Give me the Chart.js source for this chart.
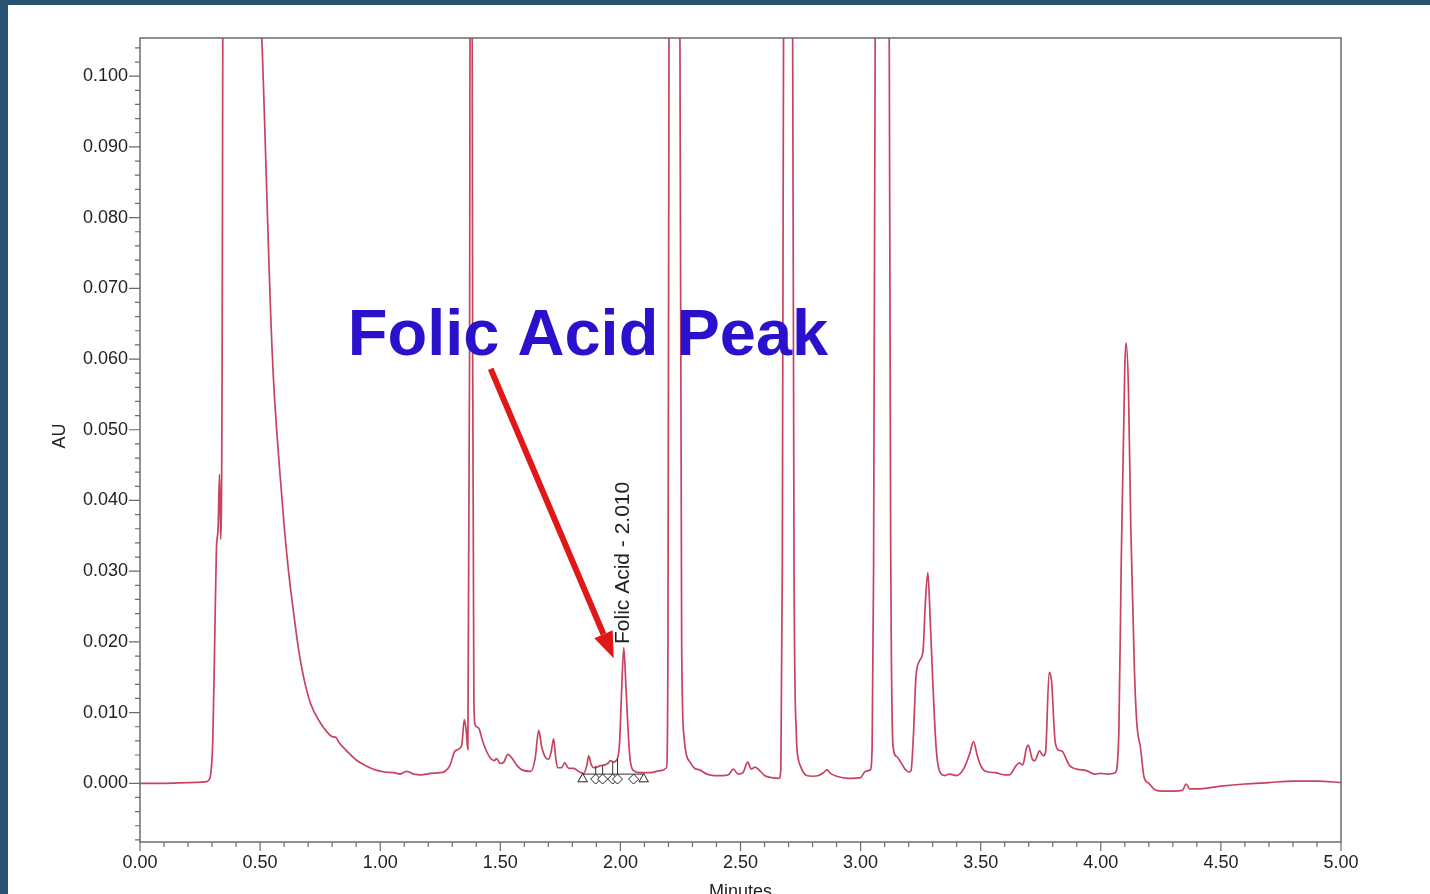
<!DOCTYPE html>
<html>
<head>
<meta charset="utf-8">
<title>Folic Acid chromatogram</title>
<script src="https://cdn.jsdelivr.net/npm/chart.js@4.4.1/dist/chart.umd.min.js"></script>
<style>
  html, body { margin: 0; padding: 0; }
  body { width: 1430px; height: 894px; overflow: hidden; background: #285270; position: relative; }
  .panel { position: absolute; left: 8px; top: 5px; right: 0; bottom: 0; background: #fff; }
  .chart-box { position: absolute; left: 0; top: 0; width: 1430px; height: 894px; }
</style>
</head>
<body>
<div class="panel"></div>
<div class="chart-box"><canvas id="myChart"></canvas></div>
<script>
// retention time (minutes) and detector response (AU)
const times = [
  0.00, 0.10, 0.20, 0.27, 0.285, 0.295, 0.303, 0.310, 0.318, 0.325, 0.331, 0.336, 0.342, 0.350, 0.420,
  0.480, 0.490, 0.545, 0.550, 0.555, 0.560, 0.570, 0.580, 0.600, 0.620, 0.640, 0.660, 0.680, 0.710, 0.750, 0.780, 0.800, 0.815,
  0.830, 0.860, 0.900, 0.940, 0.980, 1.020, 1.060, 1.080, 1.110, 1.140, 1.170, 1.210, 1.250, 1.270, 1.290,
  1.310, 1.325, 1.340, 1.350, 1.358, 1.365, 1.372, 1.378, 1.385, 1.390, 1.395, 1.410, 1.427, 1.443, 1.460,
  1.475, 1.485, 1.500, 1.515, 1.531, 1.552, 1.570, 1.590, 1.627, 1.645, 1.660, 1.672, 1.689, 1.701, 1.712,
  1.722, 1.731, 1.739, 1.755, 1.768, 1.785, 1.805, 1.830, 1.847, 1.860, 1.868, 1.878, 1.889, 1.918, 1.935,
  1.947, 1.959, 1.972, 1.988, 1.997, 2.005, 2.014, 2.022, 2.030, 2.040, 2.055, 2.084, 2.125, 2.167, 2.192,
  2.198, 2.203, 2.225, 2.247, 2.255, 2.265, 2.275, 2.290, 2.310, 2.330, 2.360, 2.390, 2.430, 2.450, 2.470,
  2.490, 2.510, 2.530, 2.545, 2.560, 2.580, 2.600, 2.630, 2.660, 2.668, 2.674, 2.680, 2.700, 2.716, 2.723,
  2.733, 2.740, 2.750, 2.775, 2.800, 2.825, 2.845, 2.860, 2.875, 2.900, 2.950, 3.000, 3.020, 3.040, 3.048,
  3.054, 3.062, 3.090, 3.118, 3.125, 3.135, 3.150, 3.165, 3.185, 3.200, 3.210, 3.220, 3.230, 3.245, 3.260,
  3.270, 3.280, 3.290, 3.300, 3.315, 3.330, 3.350, 3.370, 3.400, 3.430, 3.455, 3.470, 3.485, 3.500, 3.520,
  3.560, 3.600, 3.620, 3.645, 3.660, 3.675, 3.690, 3.698, 3.715, 3.725, 3.745, 3.760, 3.770, 3.785, 3.795,
  3.810, 3.825, 3.840, 3.855, 3.870, 3.900, 3.940, 3.975, 4.000, 4.030, 4.060, 4.075, 4.085, 4.100, 4.105,
  4.115, 4.125, 4.140, 4.150, 4.165, 4.180, 4.200, 4.225, 4.260, 4.300, 4.340, 4.355, 4.370, 4.400, 4.500,
  4.600, 4.700, 4.800, 4.900, 5.000
];
const absorbance = [
  0.0000, 0.0000, 0.0001, 0.0002, 0.0004, 0.0015, 0.0060, 0.0180, 0.0330, 0.0360, 0.0437, 0.0345, 0.0600, 0.2000, 0.9000,
  0.1280, 0.1180, 0.0655, 0.0612, 0.0576, 0.0545, 0.0495, 0.0450, 0.0365, 0.0295, 0.0240, 0.0190, 0.0152, 0.0113, 0.0086, 0.0072, 0.0066, 0.0065,
  0.0057, 0.0046, 0.0033, 0.0025, 0.0019, 0.0016, 0.0015, 0.0013, 0.0017, 0.0013, 0.0012, 0.0014, 0.0015, 0.0017, 0.0025,
  0.0045, 0.0048, 0.0055, 0.0090, 0.0075, 0.0048, 0.0600, 0.2000, 0.0600, 0.0120, 0.0083, 0.0078, 0.0059, 0.0045, 0.0035,
  0.0032, 0.0035, 0.0028, 0.0030, 0.0041, 0.0034, 0.0025, 0.0019, 0.0017, 0.0035, 0.0075, 0.0052, 0.0036, 0.0034, 0.0045,
  0.0063, 0.0035, 0.0022, 0.0022, 0.0029, 0.0021, 0.0021, 0.0016, 0.0014, 0.0025, 0.0039, 0.0027, 0.0022, 0.0025, 0.0026,
  0.0028, 0.0032, 0.0030, 0.0035, 0.0060, 0.0130, 0.0192, 0.0145, 0.0088, 0.0035, 0.0018, 0.0015, 0.0015, 0.0018, 0.0022,
  0.0200, 0.1200, 0.5000, 0.1200, 0.0200, 0.0065, 0.0040, 0.0030, 0.0021, 0.0019, 0.0013, 0.0011, 0.0011, 0.0012, 0.0020,
  0.0013, 0.0015, 0.0030, 0.0020, 0.0023, 0.0018, 0.0011, 0.0008, 0.0007, 0.0020, 0.0300, 0.1200, 0.5000, 0.1200, 0.0300,
  0.0065, 0.0036, 0.0024, 0.0011, 0.0010, 0.0011, 0.0015, 0.0019, 0.0014, 0.0010, 0.0007, 0.0008, 0.0017, 0.0019, 0.0050,
  0.0300, 0.1200, 0.6000, 0.1200, 0.0360, 0.0053, 0.0038, 0.0031, 0.0020, 0.0016, 0.0018, 0.0068, 0.0148, 0.0173, 0.0188,
  0.0258, 0.0298, 0.0230, 0.0148, 0.0048, 0.0016, 0.0011, 0.0013, 0.0011, 0.0021, 0.0043, 0.0059, 0.0040, 0.0025, 0.0017,
  0.0015, 0.0012, 0.0012, 0.0024, 0.0029, 0.0026, 0.0049, 0.0054, 0.0034, 0.0032, 0.0046, 0.0039, 0.0044, 0.0157, 0.0144,
  0.0059, 0.0047, 0.0045, 0.0035, 0.0025, 0.0020, 0.0018, 0.0013, 0.0014, 0.0013, 0.0015, 0.0070, 0.0310, 0.0590, 0.0623,
  0.0560, 0.0360, 0.0160, 0.0085, 0.0051, 0.0009, 0.0000, -0.0009, -0.0011, -0.0011, -0.0010, -0.0001, -0.0008, -0.0008, -0.0004,
  -0.0001, 0.0001, 0.0003, 0.0003, 0.0001
];

const xTickValues = [0, 0.5, 1, 1.5, 2, 2.5, 3, 3.5, 4, 4.5, 5];
const yTickValues = [0, 0.01, 0.02, 0.03, 0.04, 0.05, 0.06, 0.07, 0.08, 0.09, 0.1];

// integration marks under the folic acid peak
const triangleTimes = [1.843, 2.097];
const diamondTimes = [1.897, 1.926, 1.968, 1.988, 2.055];
const dropLineTimes = [1.897, 1.926, 1.968, 1.988];
const dropLineTops = [0.0024, 0.0025, 0.0031, 0.0035];
const markerLevel = 0.0006;
const baselineLevel = 0.0013;

const peakLabel = "Folic Acid - 2.010";
const peakLabelAt = { x: 2.012, y: 0.0197 };
const calloutText = "Folic Acid Peak";
const calloutAt = { x: 0.865, y: 0.0606 };
const arrowFrom = { x: 1.46, y: 0.0586 };
const arrowTo = { x: 1.972, y: 0.0177 };

const FONT = '"Liberation Sans", Arial, sans-serif';
const AXIS_GRAY = "#6b6b6b";
const TRACE = "#c8435f";

Chart.defaults.font.family = FONT;

const trace = times.map((t, i) => ({ x: t, y: absorbance[i] }));

const dropLines = [];
dropLineTimes.forEach((t, i) => {
    dropLines.push({ x: t, y: baselineLevel });
    dropLines.push({ x: t, y: dropLineTops[i] });
    dropLines.push({ x: t, y: null });
});

const frameAndNotes = {
    id: "frameAndNotes",
    afterDraw(chart) {
        const { ctx, chartArea: a, scales: { x, y } } = chart;
        ctx.save();

        // frame
        ctx.strokeStyle = AXIS_GRAY;
        ctx.lineWidth = 1.5;
        ctx.strokeRect(a.left, a.top, a.right - a.left, a.bottom - a.top);

        // tick marks, minor every 0.10 min / 0.002 AU
        ctx.lineWidth = 1.2;
        ctx.beginPath();
        for (let i = 0; i <= 50; i++) {
            const px = x.getPixelForValue(i / 10);
            const len = i % 5 === 0 ? 9 : 5;
            ctx.moveTo(px, a.bottom);
            ctx.lineTo(px, a.bottom + len);
        }
        for (let i = -4; i <= 52; i++) {
            const py = y.getPixelForValue(i * 0.002);
            const len = i % 5 === 0 ? 11 : 5;
            ctx.moveTo(a.left, py);
            ctx.lineTo(a.left - len, py);
        }
        ctx.stroke();

        // axis titles
        ctx.fillStyle = "#222";
        ctx.font = "18px " + FONT;
        ctx.textAlign = "center";
        ctx.textBaseline = "alphabetic";
        ctx.fillText("Minutes", (a.left + a.right) / 2, a.bottom + 55);
        ctx.save();
        ctx.translate(a.left - 80, (a.top + a.bottom) / 2 - 4);
        ctx.rotate(-Math.PI / 2);
        ctx.textBaseline = "middle";
        ctx.fillText("AU", 0, 0);
        ctx.restore();

        // peak name, vertical
        ctx.save();
        ctx.translate(x.getPixelForValue(peakLabelAt.x), y.getPixelForValue(peakLabelAt.y));
        ctx.rotate(-Math.PI / 2);
        ctx.font = "21px " + FONT;
        ctx.textAlign = "left";
        ctx.textBaseline = "middle";
        ctx.fillText(peakLabel, 0, 0);
        ctx.restore();

        // red arrow
        const x0 = x.getPixelForValue(arrowFrom.x), y0 = y.getPixelForValue(arrowFrom.y);
        const x1 = x.getPixelForValue(arrowTo.x), y1 = y.getPixelForValue(arrowTo.y);
        const ang = Math.atan2(y1 - y0, x1 - x0);
        const head = 26, half = 10;
        const bx = x1 - head * Math.cos(ang), by = y1 - head * Math.sin(ang);
        ctx.strokeStyle = "#e11818";
        ctx.fillStyle = "#e11818";
        ctx.lineWidth = 6;
        ctx.beginPath();
        ctx.moveTo(x0, y0);
        ctx.lineTo(bx, by);
        ctx.stroke();
        ctx.beginPath();
        ctx.moveTo(x1, y1);
        ctx.lineTo(bx + half * Math.sin(ang), by - half * Math.cos(ang));
        ctx.lineTo(bx - half * Math.sin(ang), by + half * Math.cos(ang));
        ctx.closePath();
        ctx.fill();

        // callout
        ctx.fillStyle = "rgb(42,18,204)";
        ctx.font = "bold 65px " + FONT;
        ctx.textAlign = "left";
        ctx.textBaseline = "alphabetic";
        ctx.fillText(calloutText, x.getPixelForValue(calloutAt.x), y.getPixelForValue(calloutAt.y));

        ctx.restore();
    }
};

const config = {
    type: "scatter",
    data: {
        datasets: [
            {
                label: "Trace",
                data: trace,
                showLine: true,
                borderColor: TRACE,
                borderWidth: 1.7,
                pointRadius: 0,
                cubicInterpolationMode: "monotone",
                order: 1
            },
            {
                label: "Baseline",
                data: [{ x: triangleTimes[0], y: baselineLevel }, { x: triangleTimes[1], y: baselineLevel }],
                showLine: true,
                borderColor: "#333",
                borderWidth: 1,
                pointRadius: 0
            },
            {
                label: "Drops",
                data: dropLines,
                showLine: true,
                spanGaps: false,
                borderColor: "#333",
                borderWidth: 1,
                pointRadius: 0
            },
            {
                label: "Start/End",
                data: triangleTimes.map((t) => ({ x: t, y: markerLevel })),
                pointStyle: "triangle",
                pointRadius: 5.5,
                borderColor: "#222",
                backgroundColor: "#fff",
                borderWidth: 1
            },
            {
                label: "Slices",
                data: diamondTimes.map((t) => ({ x: t, y: markerLevel })),
                pointStyle: "rectRot",
                pointRadius: 5,
                borderColor: "#222",
                backgroundColor: "#fff",
                borderWidth: 1
            }
        ]
    },
    options: {
        responsive: true,
        maintainAspectRatio: false,
        animation: false,
        events: [],
        layout: { padding: { top: 38, right: 89, bottom: 0, left: 0 } },
        plugins: { legend: { display: false }, tooltip: { enabled: false } },
        scales: {
            x: {
                type: "linear",
                position: "bottom",
                min: 0,
                max: 5,
                afterFit: (scale) => { scale.height = 52; },
                afterBuildTicks: (axis) => { axis.ticks = xTickValues.map((v) => ({ value: v })); },
                grid: { display: false, drawTicks: false },
                border: { display: false },
                ticks: {
                    autoSkip: false,
                    maxRotation: 0,
                    padding: 10,
                    color: "#222",
                    font: { size: 18 },
                    callback: (v) => Number(v).toFixed(2)
                }
            },
            y: {
                type: "linear",
                position: "left",
                min: -0.0083,
                max: 0.1054,
                afterFit: (scale) => { scale.width = 140; },
                afterBuildTicks: (axis) => { axis.ticks = yTickValues.map((v) => ({ value: v })); },
                grid: { display: false, drawTicks: false },
                border: { display: false },
                ticks: {
                    padding: 12,
                    color: "#222",
                    font: { size: 18 },
                    callback: (v) => Number(v).toFixed(3)
                }
            }
        }
    },
    plugins: [frameAndNotes]
};

const myChart = new Chart(document.getElementById("myChart"), config);
</script>
</body>
</html>
